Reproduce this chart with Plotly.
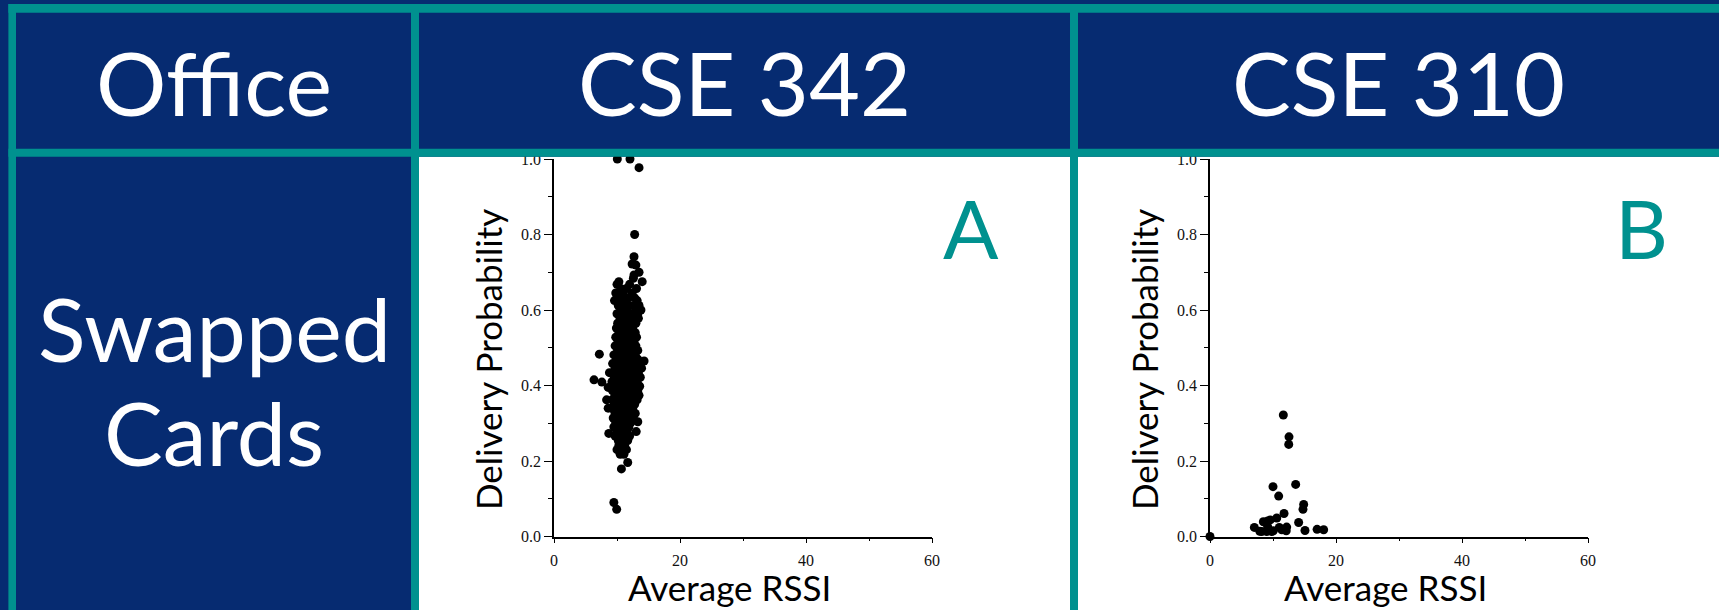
import plotly.graph_objects as go

W, H = 1719, 610
NAVY = "#062b71"
TEAL = "#00918f"
HEAD_FONT = "Gill Sans, Gill Sans MT, Lato, sans-serif"
TICK_FONT = "Times New Roman, Liberation Serif, serif"

# ---------------- data ----------------
header_labels = ["Office", "CSE 342", "CSE 310"]
row_label_lines = ["Swapped", "Cards"]
panel_letters = ["A", "B"]
x_title = "Average RSSI"
y_title = "Delivery Probability"
x_tick_values = [0, 20, 40, 60]
y_tick_values = [0.0, 0.2, 0.4, 0.6, 0.8, 1.0]

# CSE 342 (panel A): (average RSSI, delivery probability)
cse342_points = [
    (10.05, 1.0), (12.06, 1.0), (13.5, 0.977), (12.8, 0.80), (12.7, 0.741),
    (12.4, 0.722), (13.0, 0.719), (13.5, 0.70), (12.7, 0.693), (12.6, 0.684),
    (10.3, 0.675), (14.0, 0.675), (10.0, 0.668), (12.0, 0.668),
    (10.6, 0.657), (11.5, 0.657), (13.1, 0.657),
    (9.8, 0.645), (11.0, 0.645), (12.4, 0.645),
    (10.4, 0.632), (11.8, 0.632), (12.8, 0.632),
    (9.6, 0.625), (11.2, 0.625), (13.2, 0.625),
    (10.2, 0.612), (10.9, 0.612), (12.0, 0.612), (12.7, 0.612), (13.5, 0.612),
    (10.6, 0.600), (11.6, 0.600), (13.0, 0.600), (13.8, 0.600),
    (10.0, 0.590), (11.1, 0.590), (12.4, 0.590), (13.3, 0.590),
    (10.5, 0.578), (11.8, 0.578), (12.6, 0.578), (13.4, 0.578),
    (10.1, 0.565), (10.9, 0.565), (11.5, 0.565), (12.2, 0.565), (13.0, 0.565),
    (9.9, 0.552), (10.6, 0.552), (11.7, 0.552), (12.5, 0.552),
    (10.3, 0.540), (11.2, 0.540), (12.0, 0.540), (12.9, 0.540),
    (9.8, 0.528), (10.7, 0.528), (11.5, 0.528), (12.4, 0.528), (13.1, 0.528),
    (10.2, 0.516), (11.0, 0.516), (11.9, 0.516), (12.7, 0.516),
    (9.7, 0.505), (10.5, 0.505), (11.4, 0.505), (12.2, 0.505), (13.0, 0.505),
    (10.1, 0.493), (10.9, 0.493), (11.8, 0.493), (12.6, 0.493), (13.3, 0.493),
    (7.2, 0.483), (9.5, 0.481), (10.3, 0.481), (11.2, 0.481), (12.0, 0.481), (12.9, 0.481),
    (9.9, 0.470), (10.7, 0.470), (11.6, 0.470), (12.4, 0.470), (13.3, 0.470), (14.3, 0.465),
    (9.3, 0.458), (10.2, 0.458), (11.0, 0.458), (11.9, 0.458), (12.7, 0.458), (13.6, 0.458),
    (9.7, 0.446), (10.5, 0.446), (11.4, 0.446), (12.2, 0.446), (13.1, 0.446), (13.9, 0.446),
    (8.8, 0.434), (9.4, 0.434), (10.2, 0.434), (11.0, 0.434), (11.8, 0.434), (12.6, 0.434), (13.4, 0.434),
    (9.6, 0.422), (10.5, 0.422), (11.3, 0.422), (12.1, 0.422), (12.9, 0.422), (13.7, 0.422),
    (6.35, 0.415), (7.6, 0.409),
    (9.2, 0.410), (10.0, 0.410), (10.8, 0.410), (11.6, 0.410), (12.4, 0.410), (13.2, 0.410),
    (8.6, 0.395), (9.6, 0.398), (10.4, 0.398), (11.2, 0.398), (12.0, 0.398), (12.8, 0.398), (13.6, 0.398),
    (9.3, 0.386), (10.1, 0.386), (10.9, 0.386), (11.7, 0.386), (12.5, 0.386), (13.3, 0.386),
    (9.7, 0.374), (10.5, 0.374), (11.3, 0.374), (12.1, 0.374), (12.9, 0.374), (13.5, 0.374),
    (8.35, 0.362), (9.2, 0.362), (10.0, 0.362), (10.8, 0.362), (11.6, 0.362), (12.4, 0.362), (13.2, 0.362),
    (9.6, 0.350), (10.4, 0.350), (11.2, 0.350), (12.0, 0.350), (12.8, 0.350),
    (8.6, 0.340), (9.3, 0.338), (10.1, 0.338), (10.9, 0.338), (11.7, 0.338), (12.5, 0.338),
    (9.7, 0.326), (10.5, 0.326), (11.3, 0.326), (12.1, 0.326), (12.9, 0.326),
    (9.4, 0.314), (10.2, 0.314), (11.0, 0.314), (11.8, 0.314), (12.6, 0.314), (13.3, 0.304),
    (9.8, 0.302), (10.6, 0.302), (11.4, 0.302), (12.2, 0.302),
    (9.5, 0.290), (10.3, 0.290), (11.1, 0.290), (11.9, 0.290),
    (8.7, 0.273), (10.0, 0.278), (10.8, 0.278), (11.6, 0.278), (13.05, 0.278),
    (9.7, 0.266), (10.5, 0.266), (11.3, 0.266), (12.0, 0.266),
    (10.2, 0.254), (11.0, 0.254), (11.7, 0.254),
    (10.3, 0.242), (11.2, 0.242),
    (10.0, 0.230), (10.8, 0.230), (11.5, 0.230),
    (10.5, 0.218), (11.1, 0.218),
    (11.7, 0.196), (10.7, 0.179), (9.5, 0.090), (9.95, 0.072),
]

# CSE 310 (panel B): (average RSSI, delivery probability)
cse310_points = [
    (0.0, 0.0), (11.64, 0.322), (12.54, 0.264), (12.5, 0.244), (10.0, 0.132),
    (13.6, 0.138), (10.9, 0.107), (14.87, 0.085), (14.76, 0.072), (11.75, 0.061),
    (10.6, 0.049), (9.57, 0.044), (8.47, 0.039), (9.15, 0.041), (14.07, 0.037),
    (7.04, 0.024), (11.0, 0.024), (12.17, 0.025), (17.0, 0.019), (18.04, 0.018),
    (15.08, 0.016), (12.1, 0.015), (7.9, 0.014), (8.2, 0.013), (9.0, 0.013),
    (9.8, 0.013), (9.15, 0.026), (10.05, 0.015), (11.4, 0.018),
]

a_rssi = [p[0] for p in cse342_points]
a_prob = [p[1] for p in cse342_points]
b_rssi = [p[0] for p in cse310_points]
b_prob = [p[1] for p in cse310_points]


# ---------------- layout helpers (pixel -> paper) ----------------
def fx(x):
    return x / W


def fy(y):
    return 1 - y / H


fig = go.Figure()
fig.add_trace(go.Scatter(x=a_rssi, y=a_prob, mode="markers", xaxis="x", yaxis="y",
                         marker=dict(color="black", size=9), cliponaxis=False,
                         showlegend=False, hoverinfo="x+y"))
fig.add_trace(go.Scatter(x=b_rssi, y=b_prob, mode="markers", xaxis="x2", yaxis="y2",
                         marker=dict(color="black", size=9), cliponaxis=False,
                         showlegend=False, hoverinfo="x+y"))

plot_top, plot_bot = 159, 536.5
ydom = [fy(plot_bot), fy(plot_top)]

tickfont = dict(family=TICK_FONT, size=16, color="#111")
common_x = dict(range=[0, 60], tickmode="array", tickvals=x_tick_values,
                showline=True, linecolor="black", linewidth=1.6,
                ticks="outside", ticklen=5, tickwidth=1.3, tickcolor="black",
                minor=dict(tickmode="array", tickvals=[10, 30, 50], ticks="outside",
                           ticklen=3, tickwidth=1.2, tickcolor="black"),
                showgrid=False, zeroline=False, ticklabelstandoff=3,
                automargin=False, tickfont=tickfont)
common_y = dict(range=[0, 1], tickmode="array", tickvals=y_tick_values, tickformat=".1f",
                showline=True, linecolor="black", linewidth=1.6,
                ticks="outside", ticklen=8, tickwidth=1.3, tickcolor="black",
                minor=dict(tickmode="array", tickvals=[0.1, 0.3, 0.5, 0.7, 0.9],
                           ticks="outside", ticklen=4, tickwidth=1.2, tickcolor="black"),
                showgrid=False, zeroline=False, automargin=False, tickfont=tickfont)

fig.update_layout(
    width=W, height=H, margin=dict(l=0, r=0, t=0, b=0, pad=0, autoexpand=False),
    paper_bgcolor=NAVY, plot_bgcolor="rgba(0,0,0,0)",
    xaxis=dict(domain=[fx(554), fx(932)], anchor="y", **common_x),
    yaxis=dict(domain=ydom, anchor="x", **common_y),
    xaxis2=dict(domain=[fx(1210), fx(1588)], anchor="y2", **common_x),
    yaxis2=dict(domain=ydom, anchor="x2", **common_y),
)

shapes = []


def rect(x0, y0, x1, y1, color, layer):
    shapes.append(dict(type="rect", xref="paper", yref="paper",
                       x0=fx(x0), x1=fx(x1), y0=fy(y1), y1=fy(y0),
                       fillcolor=color, line=dict(width=0), layer=layer))


# white cells holding the charts
rect(419, 156.7, 1070, H, "white", "below")
rect(1078, 156.7, W, H, "white", "below")
# teal table grid
rect(8.4, 4, W, 12.7, TEAL, "above")
rect(8.4, 148.7, W, 156.7, TEAL, "above")
rect(8.4, 4, 16, H, TEAL, "above")
rect(411, 4, 419, H, TEAL, "above")
rect(1070, 4, 1078, H, TEAL, "above")
fig.update_layout(shapes=shapes)

ann = []


def text(x, y, s, size, color, angle=0):
    ann.append(dict(x=fx(x), y=fy(y), xref="paper", yref="paper", text=s,
                    showarrow=False, xanchor="center", yanchor="middle",
                    textangle=angle, font=dict(family=HEAD_FONT, size=size, color=color)))


# header row
text(214, 82, header_labels[0], 88, "white")
text(744.5, 82, header_labels[1], 88, "white")
text(1398.5, 82, header_labels[2], 88, "white")
# row label
text(214, 328, row_label_lines[0], 88, "white")
text(214, 432, row_label_lines[1], 88, "white")
# panel letters
text(971, 227, panel_letters[0], 82, TEAL)
text(1641, 227, panel_letters[1], 82, TEAL)
# axis titles
for x0 in (554, 1210):
    text(x0 - 66, 360, y_title, 35, "black", angle=-90)
    text(x0 + 175, 587, x_title, 35, "black")
fig.update_layout(annotations=ann)

fig.write_html("out.html", config={"displayModeBar": False},
               post_script="document.body.style.margin='0';"
                           "document.body.style.overflow='hidden';")
